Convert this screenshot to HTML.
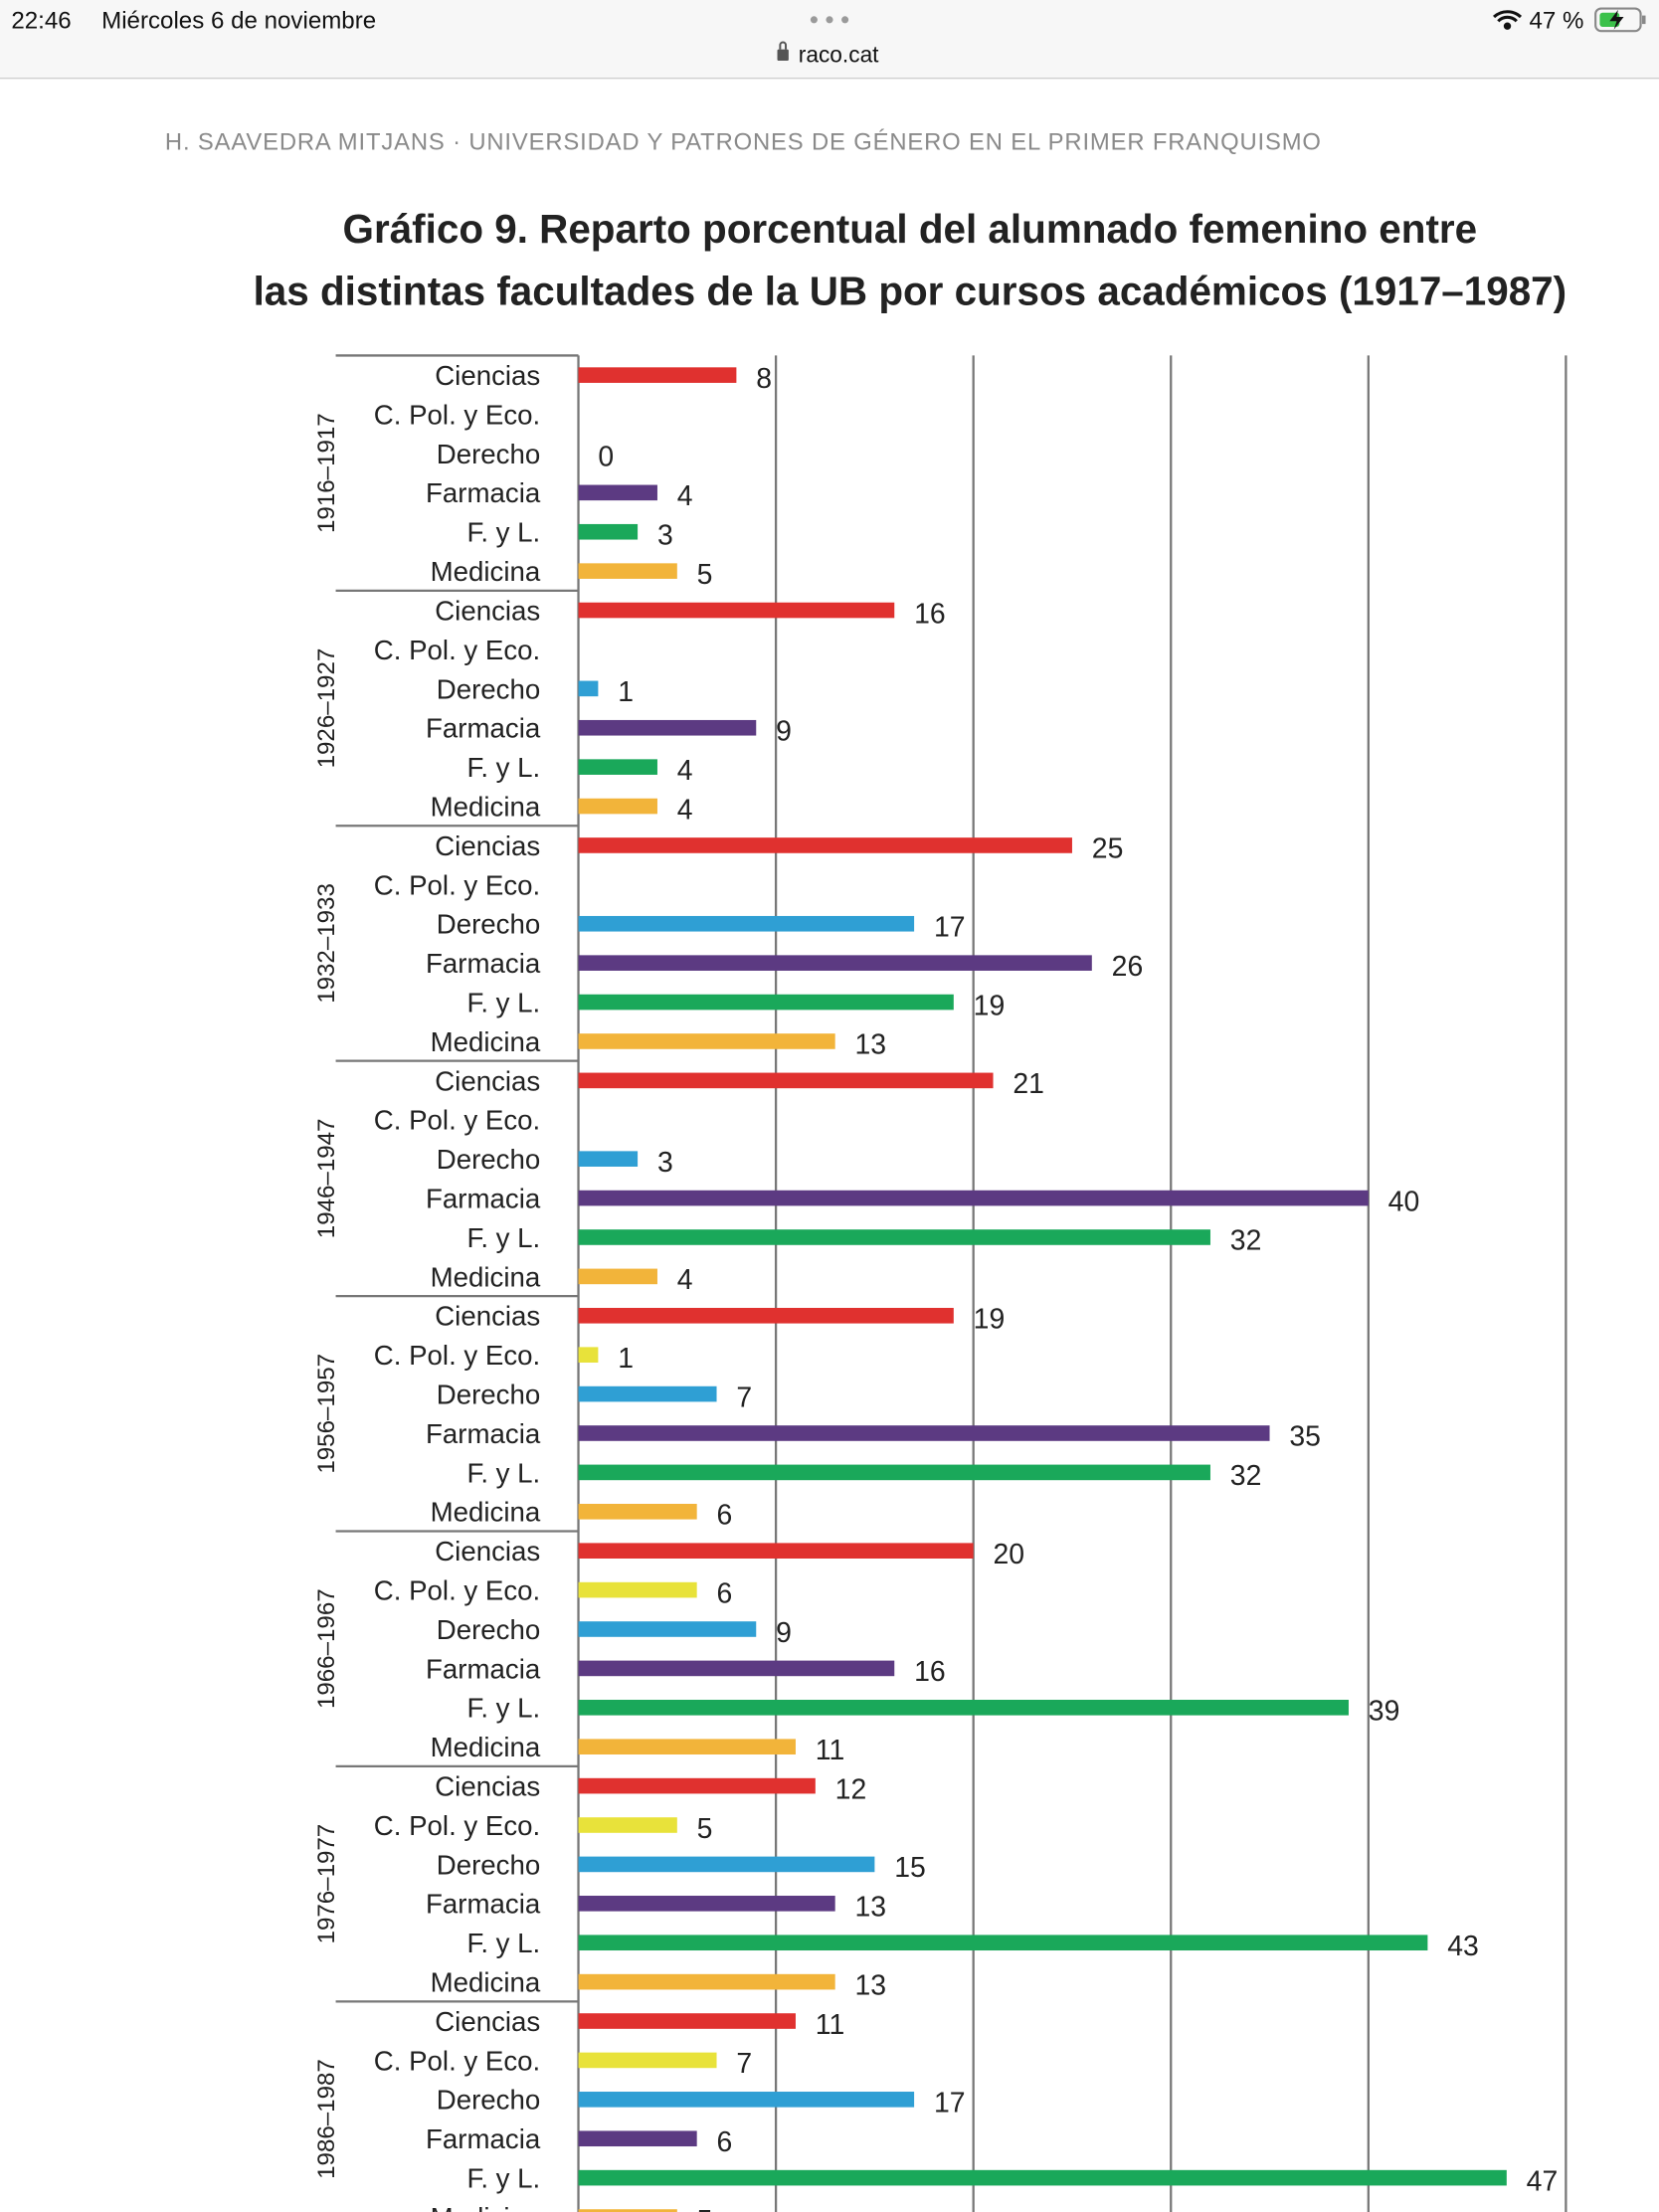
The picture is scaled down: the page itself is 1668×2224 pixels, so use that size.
<!DOCTYPE html>
<html><head><meta charset="utf-8"><style>
html,body{margin:0;padding:0;background:#fff}
svg{display:block;font-family:"Liberation Sans",sans-serif}
</style></head><body>
<svg id="s" width="1668" height="2224" viewBox="0 0 1176 1568" xmlns="http://www.w3.org/2000/svg">
<rect x="0" y="0" width="1176" height="55" fill="#f7f7f7"/>
<line x1="0" y1="55.5" x2="1176" y2="55.5" stroke="#cfcfcf"/>
<text x="8" y="20" font-size="17" fill="#111">22:46</text>
<text x="72" y="20" font-size="17" fill="#111">Miércoles 6 de noviembre</text>
<g fill="#9a9a9a"><circle cx="577" cy="14" r="2.5"/><circle cx="588" cy="14" r="2.5"/><circle cx="599" cy="14" r="2.5"/></g>
<g><rect x="551" y="35" width="8" height="8" rx="1" fill="#555"/><path d="M553 35 v-3 a2 2 0 0 1 4 0 v3" fill="none" stroke="#555" stroke-width="1.4"/>
<text x="566" y="44" font-size="16" fill="#111">raco.cat</text></g>
<g fill="none" stroke="#111" stroke-width="2.2"><path d="M1059 12 a14 14 0 0 1 19 0"/><path d="M1062 15 a9 9 0 0 1 13 0"/><circle cx="1068.5" cy="18.5" r="1.5" fill="#111"/></g>
<text x="1084" y="20" font-size="17" fill="#111">47 %</text>
<g><rect x="1131" y="6" width="32" height="16" rx="4" fill="none" stroke="#888" stroke-width="1.5"/><rect x="1134" y="9" width="14" height="10" rx="2" fill="#3bc14a"/><rect x="1164" y="11" width="2.5" height="6" fill="#888"/><path d="M1147 7 l-6 8 h5 l-2 6 l7 -9 h-5 z" fill="#111"/></g>
<text x="117" y="106" font-size="16.8" fill="#8a8a8a" letter-spacing="0.6">H. SAAVEDRA MITJANS  ·  UNIVERSIDAD Y PATRONES DE GÉNERO EN EL PRIMER FRANQUISMO</text>
<text x="645" y="172" font-size="28.5" font-weight="bold" fill="#222" text-anchor="middle">Gráfico 9. Reparto porcentual del alumnado femenino entre</text>
<text x="645" y="216" font-size="28.5" font-weight="bold" fill="#222" text-anchor="middle">las distintas facultades de la UB por cursos académicos (1917–1987)</text>
<g id="chart"></g>
</svg>
<script>
const groups=["1916–1917","1926–1927","1932–1933","1946–1947","1956–1957","1966–1967","1976–1977","1986–1987"];
const categories=["Ciencias","C. Pol. y Eco.","Derecho","Farmacia","F. y L.","Medicina"];
const colors=["#e0312f","#e8e23a","#2f9fd4","#5c3a82","#1aa85a","#f2b43a"];
const ciencias=[8,16,25,21,19,20,12,11];
const cpol=[null,null,null,null,1,6,5,7];
const derecho=[0,1,17,3,7,9,15,17];
const farmacia=[4,9,26,40,35,16,13,6];
const fyl=[3,4,19,32,32,39,43,47];
const medicina=[5,4,13,4,6,11,13,5];
const gridTicks=[10,20,30,40,50];
const series=[ciencias,cpol,derecho,farmacia,fyl,medicina];
const NS="http://www.w3.org/2000/svg";
const g=document.getElementById('chart');
const x0=410,scale=14,top0=252,rowH=27.78;
const xs=v=>x0+v*scale;
const ys=(gi,ci)=>top0+(gi*6+ci)*rowH+rowH/2;
function mk(t,a,txt){const e=document.createElementNS(NS,t);for(const k in a)e.setAttribute(k,a[k]);if(txt!=null)e.textContent=txt;g.appendChild(e);return e;}
gridTicks.forEach(t=>{
const l=mk('line',{x1:xs(t),x2:xs(t),y1:top0,y2:1568,stroke:'#777','stroke-width':1.6});


});
const ax=mk('line',{x1:x0,x2:x0,y1:top0,y2:1568,stroke:'#777','stroke-width':1.6});


groups.forEach((gr,gi)=>{
const yt=top0+gi*6*rowH;
const sep=mk('line',{x1:238,x2:x0,y1:yt,y2:yt,stroke:'#777','stroke-width':1.6});


const cy=yt+3*rowH;
const gl=mk('text',{x:0,y:0,'font-size':17,fill:'#222','text-anchor':'middle',transform:`translate(237,${cy}) rotate(-90)`},gr);


categories.forEach((c,ci)=>{
const y=ys(gi,ci);
const cl=mk('text',{x:383,y:y+7,'font-size':19.5,fill:'#222','text-anchor':'end'},c);


const v=series[ci][gi];
if(v===null)return;
if(v>0){const b=mk('rect',{x:x0,y:y-5.5,width:xs(v)-x0,height:11,fill:colors[ci]});

}
const vl=mk('text',{x:xs(v)+14,y:y+9,'font-size':20,fill:'#222'},String(v));


});
});
</script>
</body></html>
